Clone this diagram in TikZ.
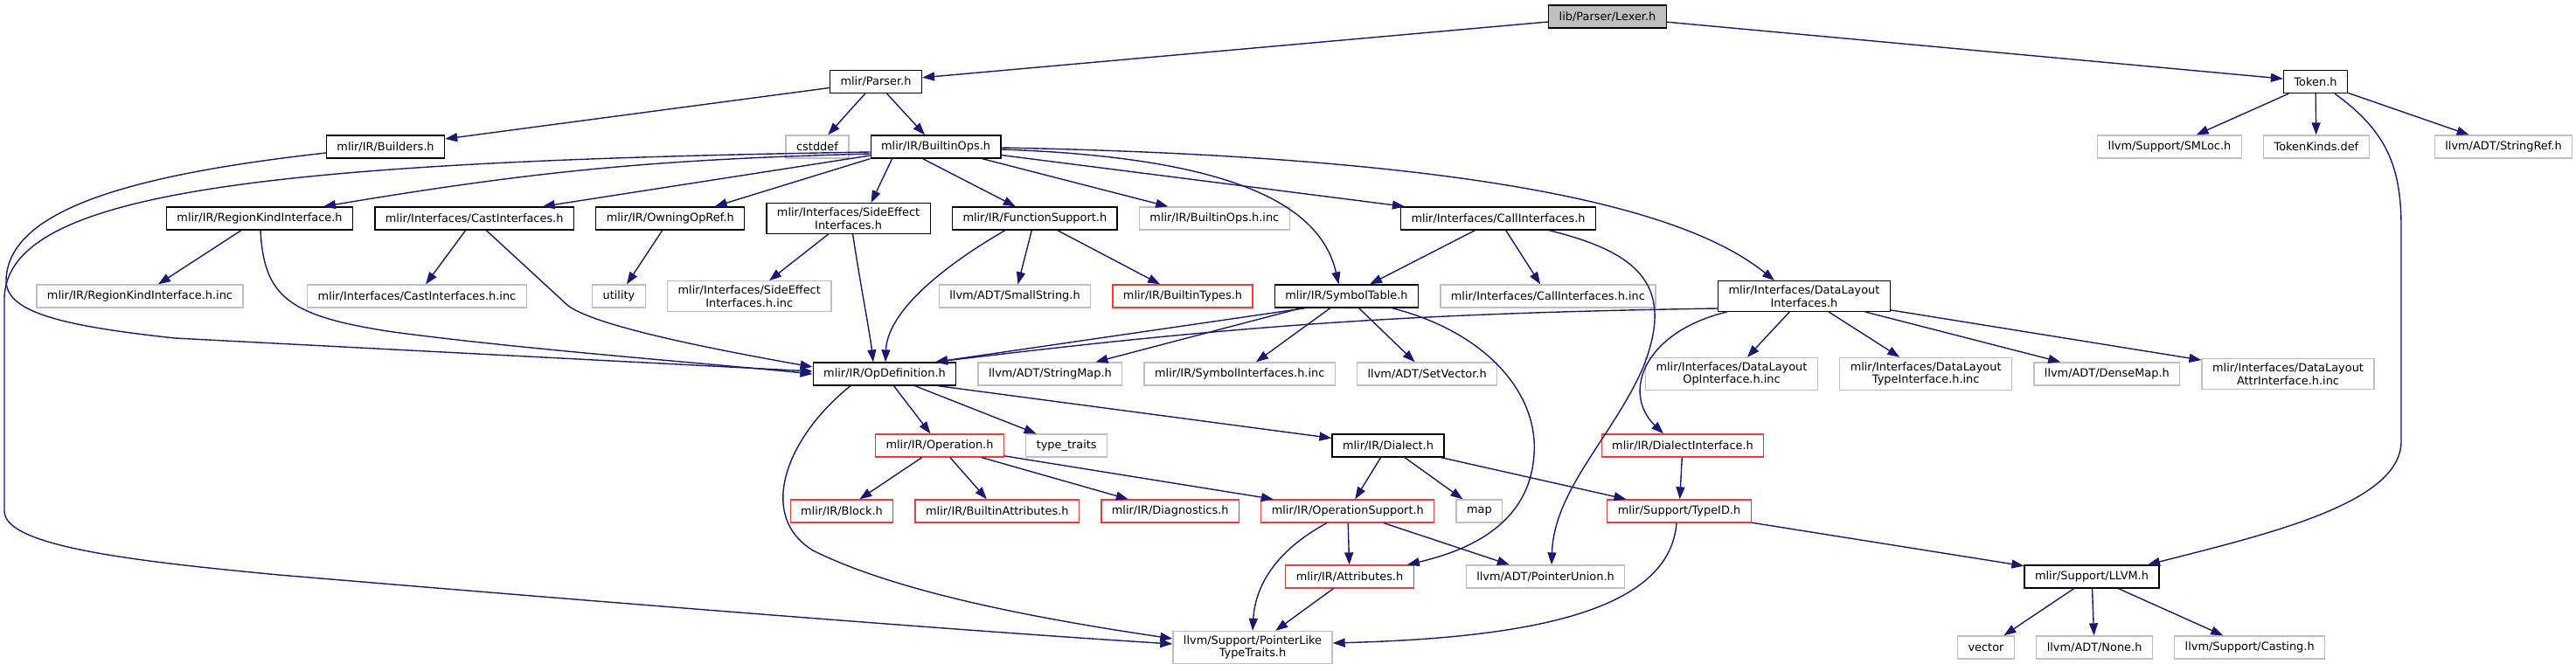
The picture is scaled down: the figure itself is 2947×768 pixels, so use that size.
\documentclass[tikz,border=0pt]{standalone}
\usepackage{fontspec}
\setmainfont{DejaVu Sans}
\usepackage{tikz}
\usetikzlibrary{arrows.meta,positioning}

\definecolor{edgeblue}{RGB}{25,25,112}
\definecolor{extgray}{RGB}{191,191,191}
\definecolor{truncred}{RGB}{245,55,55}

\begin{document}
\begin{tikzpicture}[
  x=1pt, y=-1pt,
  node distance=24pt,
  hdr/.style={rectangle, draw=black, line width=1.3pt,
    minimum height=26pt, inner xsep=12pt, inner ysep=5pt,
    align=center, font=\fontsize{12.9}{14.5}\selectfont},
  ext/.style={hdr, draw=extgray},
  trunc/.style={hdr, draw=truncred},
  arr/.style={-{Triangle[length=14pt,width=10pt]}, line width=1.4pt,
    color=edgeblue},
]
  \useasboundingbox (0,0) rectangle (2947,768);

  \node[hdr, fill=extgray] (lexer) at (1839,19) {lib/Parser/Lexer.h};
  \node[hdr] (parser) at (1002,93.5) {mlir/Parser.h};
  \node[hdr] (token) at (2649,93.5) {Token.h};

  \node[hdr] (builders) at (441,168) {mlir/IR/Builders.h};
  \node[ext] (cstddef) at (935,168) {cstddef};
  \node[hdr, right=of cstddef] (builtinops) {mlir/IR/BuiltinOps.h};
  \node[ext] (smloc) at (2482,168) {llvm/Support/SMLoc.h};
  \node[ext, right=of smloc] (tokenkinds) {TokenKinds.def};
  \node[ext] (stringref) at (2864,168) {llvm/ADT/StringRef.h};

  \node[hdr] (regionkind) at (297,250) {mlir/IR/RegionKindInterface.h};
  \node[hdr, right=of regionkind] (castif) {mlir/Interfaces/CastInterfaces.h};
  \node[hdr, right=of castif] (owningop) {mlir/IR/OwningOpRef.h};
  \node[hdr, right=of owningop] (sideeffect)
    {mlir/Interfaces/SideEffect\\Interfaces.h};
  \node[hdr, right=of sideeffect] (funcsupport) {mlir/IR/FunctionSupport.h};
  \node[ext, right=of funcsupport] (builtinopsinc) {mlir/IR/BuiltinOps.h.inc};
  \node[hdr] (callif) at (1714,250) {mlir/Interfaces/CallInterfaces.h};

  \node[ext] (regionkindinc) at (160,339) {mlir/IR/RegionKindInterface.h.inc};
  \node[ext] (castifinc) at (477,339) {mlir/Interfaces/CastInterfaces.h.inc};
  \node[ext] (utility) at (708,339) {utility};
  \node[ext, right=of utility] (sideeffectinc)
    {mlir/Interfaces/SideEffect\\Interfaces.h.inc};
  \node[ext] (smallstring) at (1161,339) {llvm/ADT/SmallString.h};
  \node[trunc, right=of smallstring] (builtintypes) {mlir/IR/BuiltinTypes.h};
  \node[hdr, right=of builtintypes] (symboltable) {mlir/IR/SymbolTable.h};
  \node[ext, right=of symboltable] (callifinc)
    {mlir/Interfaces/CallInterfaces.h.inc};
  \node[hdr] (datalayout) at (2064,339)
    {mlir/Interfaces/DataLayout\\Interfaces.h};

  \node[hdr] (opdef) at (1012,428) {mlir/IR/OpDefinition.h};
  \node[ext, right=of opdef] (stringmap) {llvm/ADT/StringMap.h};
  \node[ext, right=of stringmap] (symbolifinc) {mlir/IR/SymbolInterfaces.h.inc};
  \node[ext, right=of symbolifinc] (setvector) {llvm/ADT/SetVector.h};
  \node[ext] (dlopinc) at (1981,428)
    {mlir/Interfaces/DataLayout\\OpInterface.h.inc};
  \node[ext, right=of dlopinc] (dltypeinc)
    {mlir/Interfaces/DataLayout\\TypeInterface.h.inc};
  \node[ext, right=of dltypeinc] (densemap) {llvm/ADT/DenseMap.h};
  \node[ext, right=of densemap] (dlattrinc)
    {mlir/Interfaces/DataLayout\\AttrInterface.h.inc};

  \node[trunc] (operation) at (1075,510) {mlir/IR/Operation.h};
  \node[ext, right=of operation] (typetraits) {type\_traits};
  \node[hdr] (dialect) at (1588,510) {mlir/IR/Dialect.h};
  \node[trunc] (dialectif) at (1925,510) {mlir/IR/DialectInterface.h};

  \node[trunc] (block) at (963,585) {mlir/IR/Block.h};
  \node[trunc, right=of block] (builtinattr) {mlir/IR/BuiltinAttributes.h};
  \node[trunc, right=of builtinattr] (diagnostics) {mlir/IR/Diagnostics.h};
  \node[trunc, right=of diagnostics] (opsupport) {mlir/IR/OperationSupport.h};
  \node[ext, right=of opsupport] (map) {map};
  \node[trunc] (typeid) at (1921,585) {mlir/Support/TypeID.h};

  \node[trunc] (attributes) at (1544,660) {mlir/IR/Attributes.h};
  \node[ext] (pointerunion) at (1768,660) {llvm/ADT/PointerUnion.h};
  \node[hdr] (llvmh) at (2393,660) {mlir/Support/LLVM.h};

  \node[ext] (pointerlike) at (1433,741) {llvm/Support/PointerLike\\TypeTraits.h};
  \node[ext] (vector) at (2272,741) {vector};
  \node[ext, right=of vector] (none) {llvm/ADT/None.h};
  \node[ext, right=of none] (casting) {llvm/Support/Casting.h};

  % top of the graph
  \draw[arr] (lexer) -- (parser);
  \draw[arr] (lexer) -- (token);
  \draw[arr] (parser) -- (builders);
  \draw[arr] (parser) -- (cstddef);
  \draw[arr] (parser) -- (builtinops);
  \draw[arr] (token) -- (smloc);
  \draw[arr] (token) -- (tokenkinds);
  \draw[arr] (token) -- (stringref);
  \draw[arr] ([xshift=22pt]token.south) .. controls (2730,150) and (2747,190)
    .. (2747,260) -- (2747,505) .. controls (2747,575) and (2600,610)
    .. ([xshift=64pt]llvmh.north);

  % mlir/IR/BuiltinOps.h
  \draw[arr] ([yshift=-8pt]builtinops.west) to[bend right=4]
    ([xshift=73pt]regionkind.north);
  \draw[arr] ([yshift=-10pt]builtinops.west) -- ([xshift=78pt]castif.north);
  \draw[arr] (builtinops.south west) -- ([xshift=51pt]owningop.north);
  \draw[arr] ([xshift=-50pt]builtinops.south) -- ([xshift=26pt]sideeffect.north);
  \draw[arr] ([xshift=-15pt]builtinops.south) -- ([xshift=-22pt]funcsupport.north);
  \draw[arr] (builtinops) -- (builtinopsinc);
  \draw[arr] (builtinops) -- (callif);
  \draw[arr] ([yshift=-3pt]builtinops.east) .. controls (1400,180) and (1510,230)
    .. ([xshift=-9pt]symboltable.north);
  \draw[arr] ([yshift=-1pt]builtinops.east) .. controls (1700,180) and (1930,240)
    .. ([xshift=-34pt]datalayout.north);
  \draw[arr] ([yshift=-6pt]builtinops.west) .. controls (300,185) and (10,220)
    .. (5,340) -- (5,585) .. controls (5,625) and (150,642) .. (319,658)
    .. controls (700,690) and (1100,722) .. ([yshift=4pt]pointerlike.west);

  % into mlir/IR/OpDefinition.h
  \draw[arr] ([yshift=-7pt]builders.west) .. controls (150,200) and (10,240)
    .. (7,320) .. controls (6,355) and (60,372) .. (200,387)
    -- ([yshift=3pt]opdef.west);
  \draw[arr] ([xshift=1pt]regionkind.south) .. controls (302,340) and (330,362)
    .. (450,380) .. controls (600,400) and (800,415) .. (opdef.west);
  \draw[arr] (castif.-45) -- (650,350) .. controls (675,368) and (760,390)
    .. ([yshift=8pt]opdef.west);
  \draw[arr] ([xshift=5pt]sideeffect.south) .. controls (985,330) and (995,380)
    .. ([xshift=-13pt]opdef.north);
  \draw[arr] ([xshift=-34pt]funcsupport.south) .. controls (1070,310) and (1015,360)
    .. ([xshift=1pt]opdef.north);
  \draw[arr] ([xshift=-47pt]symboltable.south) -- ([xshift=58pt]opdef.north);
  \draw[arr] ([yshift=-14pt]datalayout.west) to[bend right=3]
    ([xshift=58pt]opdef.north);

  % third row
  \draw[arr] (regionkind) -- (regionkindinc);
  \draw[arr] (castif) -- (castifinc);
  \draw[arr] (owningop) -- (utility);
  \draw[arr] (sideeffect) -- (sideeffectinc);
  \draw[arr] (funcsupport) -- (smallstring);
  \draw[arr] (funcsupport) -- (builtintypes);
  \draw[arr] (callif) -- (symboltable);
  \draw[arr] (callif) -- (callifinc);
  \draw[arr] ([xshift=58pt]callif.south) .. controls (1880,290) and (1915,330)
    .. (1880,420) .. controls (1845,500) and (1778,560)
    .. ([xshift=7pt]pointerunion.north);

  % mlir/IR/SymbolTable.h and DataLayout
  \draw[arr] (symboltable) -- (stringmap);
  \draw[arr] (symboltable) -- (symbolifinc);
  \draw[arr] (symboltable) -- (setvector);
  \draw[arr] ([xshift=52pt]symboltable.south) .. controls (1700,380) and (1760,450)
    .. (1755,520) .. controls (1750,600) and (1680,630)
    .. ([xshift=-8pt]attributes.north east);
  \draw[arr] ([xshift=-88pt]datalayout.south) .. controls (1880,380) and (1855,450)
    .. ([xshift=-22pt]dialectif.north);
  \draw[arr] (datalayout) -- (dlopinc);
  \draw[arr] (datalayout) -- (dltypeinc);
  \draw[arr] (datalayout) -- (densemap);
  \draw[arr] (datalayout) -- (dlattrinc);

  % lower part
  \draw[arr] (opdef) -- (operation);
  \draw[arr] (opdef) -- (typetraits);
  \draw[arr] ([xshift=61pt]opdef.south) -- (dialect);
  \draw[arr] ([xshift=-39pt]opdef.south) .. controls (900,500) and (865,590)
    .. (930,630) .. controls (1030,680) and (1200,710)
    .. ([yshift=10pt]pointerlike.west);
  \draw[arr] (operation) -- (block);
  \draw[arr] (operation) -- (builtinattr);
  \draw[arr] (operation) -- (diagnostics);
  \draw[arr] (operation) -- (opsupport);
  \draw[arr] (dialect) -- (opsupport);
  \draw[arr] (dialect) -- (map);
  \draw[arr] (dialect) -- (typeid);
  \draw[arr] (dialectif) -- (typeid);
  \draw[arr] (opsupport) -- (attributes);
  \draw[arr] (opsupport) -- (pointerunion);
  \draw[arr] ([xshift=-24pt]opsupport.south) .. controls (1460,630) and (1436,670)
    .. (pointerlike.north);
  \draw[arr] (attributes) -- (pointerlike);
  \draw[arr] ([xshift=-3pt]typeid.south) .. controls (1910,700) and (1750,730)
    .. ([yshift=5pt]pointerlike.east);
  \draw[arr] (typeid) -- (llvmh);
  \draw[arr] (llvmh) -- (vector);
  \draw[arr] (llvmh) -- (none);
  \draw[arr] (llvmh) -- (casting);
\end{tikzpicture}
\end{document}
